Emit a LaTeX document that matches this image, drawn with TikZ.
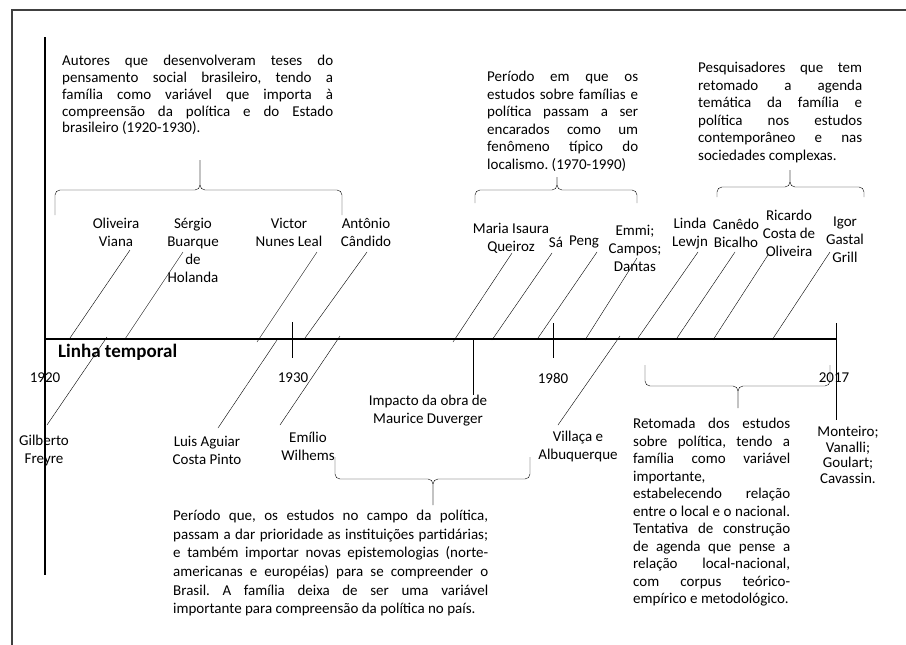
\documentclass[tikz,border=0pt]{standalone}
\usepackage{fontspec}
\setmainfont{Carlito}
\newcommand{\semhifen}{\hyphenpenalty=10000\relax\exhyphenpenalty=10000\relax\frenchspacing}
\newcommand{\chave}[6]{\draw[rounded corners=5pt] (#1,#5) -- (#1,#4) -- (#3,#4) -- (#3,#6);
					\draw[rounded corners=5pt] (#2,#5) -- (#2,#4) -- (#3,#4) -- (#3,#6);}

\begin{document}
\begin{tikzpicture}[x=1pt, y=-1pt,
		nome/.style={align=center, inner sep=0pt, font=\fontsize{15}{18}\selectfont},
		ano/.style={inner sep=0pt, font=\fontsize{15}{18}\selectfont},
		texto/.style={anchor=north west, align=justify, inner sep=0pt, font=\fontsize{15}{17.5}\selectfont\semhifen}]

					\useasboundingbox (0,0) rectangle (906,645);
					\draw[line width=1.2pt, black!75] (12,645) -- (12,10) -- (906,10);

					% eixos
					\draw[line width=1.1pt] (45,37) -- (45,575);
					\draw[line width=1.1pt] (45,339) -- (836,339);
					\coordinate (t1930) at (292,322);
					\coordinate (t1980) at (553,323);
					\coordinate (t2017) at (836,323);
					\coordinate (timp) at (473,339);
					\draw[line width=1pt] (t1930) -- (292,358);
					\draw[line width=1pt] (t1980) -- (553,358);

					\node[anchor=west, inner sep=0pt, font=\fontsize{19}{22}\selectfont\bfseries] (linha) at (58,352) {Linha temporal};
					\node[ano] (a1920) at (45,378) {1920};
					\node[ano] (a1930) at (293,378) {1930};
					\node[ano] (a1980) at (553,378) {1980};
					\node[ano] (a2017) at (834,378) {2017};

					% textos
					\node[texto, text width=271pt, font=\fontsize{15}{16.8}\selectfont\semhifen] (autores) at (62,55) {Autores que desenvolveram teses do\linebreak pensamento social brasileiro, tendo a\linebreak família como variável que importa à\linebreak compreensão da política e do Estado\linebreak brasileiro (1920-1930).};
					\node[texto, text width=151pt] (localismo) at (487,71) {Período em que os\linebreak estudos sobre famílias e\linebreak política passam a ser\linebreak encarados como um\linebreak fenômeno típico do\linebreak localismo. (1970-1990)};
					\node[texto, text width=164pt] (pesquisadores) at (698,62) {Pesquisadores que tem\linebreak retomado a agenda\linebreak temática da família e\linebreak política nos estudos\linebreak contemporâneo e nas\linebreak sociedades complexas.};
					\node[texto, text width=315pt, font=\fontsize{15}{18.6}\selectfont\semhifen] (periodo) at (173,510) {Período que, os estudos no campo da política,\linebreak passam a dar prioridade as instituições partidárias;\linebreak e também importar novas epistemologias (norte-\linebreak americanas e européias) para se compreender o\linebreak Brasil. A família deixa de ser uma variável\linebreak importante para compreensão da política no país.};
					\node[texto, text width=157pt] (retomada) at (633,418) {Retomada dos estudos\linebreak sobre política, tendo a\linebreak família como variável\linebreak importante,\newline estabelecendo relação\linebreak entre o local e o nacional.\linebreak Tentativa de construção\linebreak de agenda que pense a\linebreak relação local-nacional,\linebreak com corpus teórico-\linebreak empírico e metodológico.};

					% chaves
					\chave{55}{342}{200}{190}{215}{160}
					\chave{475}{637}{557}{190}{203}{177}
					\chave{717}{864}{790}{187}{197}{170}
					\chave{335}{530}{433}{479}{457}{505}
					\chave{645}{830}{738}{386}{365}{408}

					% nomes
					\node[nome] (ov) at (116,232) {Oliveira\\Viana};
					\node[nome] (sb) at (193,250) {Sérgio\\Buarque\\de\\Holanda};
					\node[nome] (vn) at (289,232) {Victor\\Nunes Leal};
					\node[nome] (ac) at (366,232) {Antônio\\Cândido};
					\node[nome] (mi) at (511,238) {Maria Isaura\\Queiroz};
					\node[nome] (sa) at (556,242) {Sá};
					\node[nome] (pe) at (584,242) {Peng};
					\node[nome] (em) at (635,248) {Emmi;\\Campos;\\Dantas};
					\node[nome] (ll) at (690,234) {Linda\\Lewjn};
					\node[nome] (cb) at (736,233) {Canêdo\\Bicalho};
					\node[nome] (rc) at (789,233) {Ricardo\\Costa de\\Oliveira};
					\node[nome] (ig) at (845,240) {Igor\\Gastal\\Grill};
					\node[nome] (gf) at (44,450) {Gilberto\\Freyre};
					\node[nome] (la) at (207,450) {Luis Aguiar\\Costa Pinto};
					\node[nome] (ew) at (308,446) {Emílio\\Wilhems};
					\node[nome] (imp) at (428,411) {Impacto da obra de\\Maurice Duverger};
					\node[nome] (va) at (578,446) {Villaça e\\Albuquerque};
					\node[nome, font=\fontsize{15}{15.5}\selectfont] (mon) at (848,455) {Monteiro;\\Vanalli;\\Goulart;\\Cavassin.};

					\draw[line width=1pt] (timp) -- (timp |- imp.north);
					\draw[line width=1pt] (t2017) -- (836,420);

					% ligacoes
					\coordinate (ov1) at (130,250); \coordinate (ov2) at (70,338);
					\coordinate (sb1) at (183,252); \coordinate (sb2) at (125,339);
					\coordinate (gf1) at (107,337); \coordinate (gf2) at (47,425);
					\coordinate (vn1) at (317,252); \coordinate (vn2) at (257,342);
					\coordinate (ac1) at (367,252); \coordinate (ac2) at (305,338);
					\coordinate (la1) at (277,340); \coordinate (la2) at (218,428);
					\coordinate (ew1) at (340,336); \coordinate (ew2) at (280,425);
					\coordinate (mi1) at (512,253); \coordinate (mi2) at (453,342);
					\coordinate (sa1) at (552,253); \coordinate (sa2) at (492,340);
					\coordinate (pe1) at (597,252); \coordinate (pe2) at (538,338);
					\coordinate (em1) at (637,258); \coordinate (em2) at (585,340);
					\coordinate (va1) at (620,336); \coordinate (va2) at (558,425);
					\coordinate (ll1) at (698,252); \coordinate (ll2) at (638,338);
					\coordinate (cb1) at (735,252); \coordinate (cb2) at (677,338);
					\coordinate (rc1) at (768,255); \coordinate (rc2) at (713,340);
					\coordinate (ig1) at (830,252); \coordinate (ig2) at (772,340);

					\draw (ov1) -- (ov2);
					\draw (sb1) -- (sb2);
					\draw (gf1) -- (gf2);
					\draw (vn1) -- (vn2);
					\draw (ac1) -- (ac2);
					\draw (la1) -- (la2);
					\draw (ew1) -- (ew2);
					\draw (mi1) -- (mi2);
					\draw (sa1) -- (sa2);
					\draw (pe1) -- (pe2);
					\draw (em1) -- (em2);
					\draw (va1) -- (va2);
					\draw (ll1) -- (ll2);
					\draw (cb1) -- (cb2);
					\draw (rc1) -- (rc2);
					\draw (ig1) -- (ig2);

				\end{tikzpicture}
\end{document}
